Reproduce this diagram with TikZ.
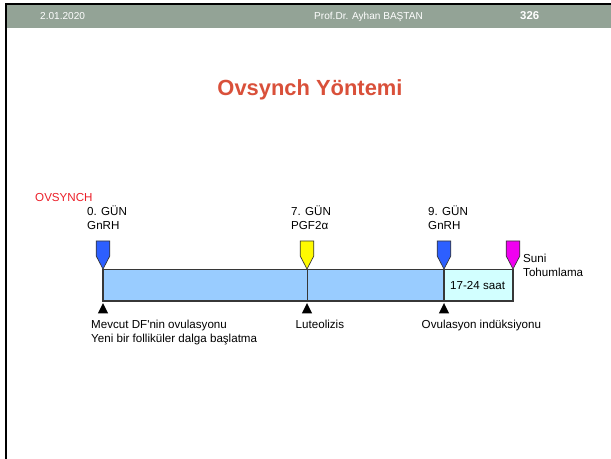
\documentclass[tikz,border=0pt]{standalone}
\usepackage{fontspec}
\setmainfont{Liberation Sans}
\usetikzlibrary{positioning}

\definecolor{headgray}{RGB}{147,163,150}
\definecolor{titlered}{RGB}{217,80,58}
\definecolor{ovsred}{RGB}{235,30,40}
\definecolor{gnrhblue}{RGB}{45,95,255}
\definecolor{pgfyellow}{RGB}{255,250,0}
\definecolor{tapink}{RGB}{240,0,240}
\definecolor{barblue}{RGB}{153,204,255}
\definecolor{barcyan}{RGB}{210,255,255}
\definecolor{edgegray}{RGB}{55,55,55}

\begin{document}
\begin{tikzpicture}[x=0.03cm,y=-0.03cm,
    bodytext/.style={font=\fontsize{9.9}{11.5}\selectfont, inner sep=0pt, anchor=base west},
    headtext/.style={font=\fontsize{8.6}{10}\selectfont, text=white, inner sep=0pt, anchor=base west},
    markbox/.style={draw=edgegray, line width=0.6pt, line join=miter},
    barbox/.style={draw=edgegray, line width=1pt}]
    \useasboundingbox (0,0) rectangle (611,459);
    % --------------------------
    % the frame and the header
    % --------------------------
    \fill[headgray] (6,4) rectangle (611,28.5);
    \fill[black] (5,3.3) rectangle (611,5.5);
    \fill[black] (5,3.3) rectangle (7.2,459);
    \node[headtext] (date) at (40,19.6) {2.01.2020};
    \node[headtext] (author) at (314,19.6) {Prof.Dr. Ayhan BAŞTAN};
    \node[headtext, font=\fontsize{9.7}{11}\selectfont\bfseries] (page) at (520,20) {326};
    % --------------------------
    % the title
    % --------------------------
    \node[inner sep=0pt, anchor=base, text=titlered,
          font=\fontsize{18.7}{22}\selectfont\bfseries] (title) at (310,96) {Ovsynch Yöntemi};
    % --------------------------
    % the bar of the protocol
    % --------------------------
    \filldraw[barbox, fill=barblue] (103,269.5) rectangle (444,301);
    \filldraw[barbox, fill=barcyan] (444,269.5) rectangle (513,301);
    \draw[edgegray, line width=0.5pt] (307,269.5) -- (307,301);
    % the injections above the bar
    \foreach \xm/\col in {103/gnrhblue, 307/pgfyellow, 444/gnrhblue, 513/tapink}{
      \filldraw[markbox, fill=\col] (\xm-6.8,241) -- (\xm+6.8,241) -- (\xm+6.8,256)
        -- (\xm,269) -- (\xm-6.8,256) -- cycle;
    }
    % the effects below the bar
    \foreach \xm in {103,307,444}{
      \fill[black] (\xm,303) -- (\xm+5.2,313.5) -- (\xm-5.2,313.5) -- cycle;
    }
    % --------------------------
    % the labels
    % --------------------------
    \node[bodytext, text=ovsred] (ovs) at (35,202) {OVSYNCH};
    \node[bodytext] (day0) at (87,216) {0. GÜN};
    \node[bodytext] (gnrh0) at (87,230) {GnRH};
    \node[bodytext] (day7) at (291,216) {7. GÜN};
    \node[bodytext] (pgf) at (291,230) {PGF2α};
    \node[bodytext] (day9) at (428,216) {9. GÜN};
    \node[bodytext] (gnrh9) at (428,230) {GnRH};
    \node[bodytext] (suni) at (523,263) {Suni};
    \node[bodytext] (tohum) at (523,277) {Tohumlama};
    \node[bodytext] (hours) at (450,290) {17-24 saat};
    \node[bodytext] (mevcut) at (91,329) {Mevcut DF\textquotesingle nin ovulasyonu};
    \node[bodytext] (yeni) at (91,343) {Yeni bir folliküler dalga başlatma};
    \node[bodytext] (luteo) at (295.5,329) {Luteolizis};
    \node[bodytext] (ovind) at (421.5,329) {Ovulasyon indüksiyonu};
\end{tikzpicture}
\end{document}
